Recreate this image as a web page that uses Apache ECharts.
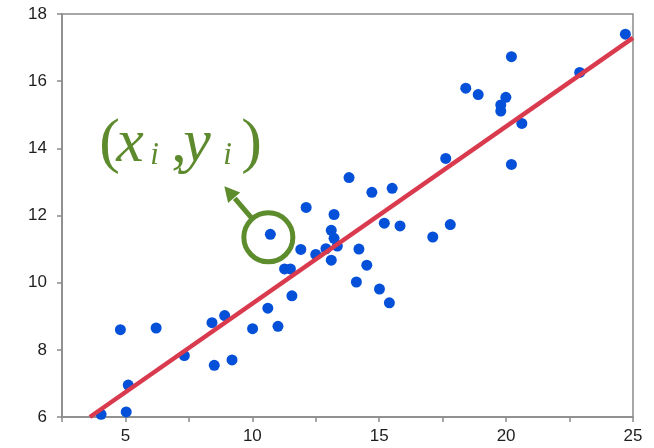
<!DOCTYPE html>
<html>
<head>
<meta charset="utf-8">
<script src="https://cdn.jsdelivr.net/npm/echarts@6/dist/echarts.min.js"></script>
<style>html,body{margin:0;padding:0;background:#fff}#c{width:654px;height:448px}</style>
</head>
<body>
<div id="c"></div>
<script>
// Observed data points (x, y)
const pointsX = [4.04, 5.03, 5.11, 4.80, 6.21, 7.32, 8.41, 8.50, 8.91, 9.20,
  10.01, 10.61, 11.01, 10.71, 11.27, 11.50, 11.56, 11.91, 12.12, 12.50,
  12.90, 13.11, 13.11, 13.22, 13.35, 13.22, 13.81, 14.10, 14.20, 14.51,
  14.71, 15.01, 15.40, 15.20, 15.51, 15.82, 17.11, 17.80, 17.62, 18.41,
  18.90, 19.79, 19.79, 19.99, 20.21, 20.62, 20.21, 22.90, 24.70];
const pointsY = [6.08, 6.15, 6.95, 8.60, 8.65, 7.83, 8.81, 7.54, 9.02, 7.70,
  8.63, 9.24, 8.70, 11.44, 10.41, 10.41, 9.61, 10.99, 12.24, 10.84,
  11.01, 10.67, 11.56, 11.32, 11.09, 12.03, 13.13, 10.02, 11.00, 10.52,
  12.69, 9.81, 9.40, 11.77, 12.81, 11.69, 11.36, 11.73, 13.70, 15.79,
  15.60, 15.11, 15.29, 15.52, 16.73, 14.74, 13.52, 16.26, 17.40];
// Fitted regression line endpoints
const fitX = [3.6, 25];
const fitY = [6.0, 17.29];
// Highlighted point index
const highlightIndex = 13;
// Axis ticks
const xTicks = [5, 10, 15, 20, 25];
const yTicks = [6, 8, 10, 12, 14, 16, 18];

const chart = echarts.init(document.getElementById('c'), null, {renderer: 'canvas'});
const scatterData = pointsX.map((x, i) => [x, pointsY[i]]);
const lineData = fitX.map((x, i) => [x, fitY[i]]);
const axisColor = '#8a8a8a';
const labelFont = {color: '#1e1e1e', fontSize: 17, fontFamily: 'Liberation Sans, Arial, sans-serif'};

chart.setOption({
  animation: false,
  grid: {left: 62, right: 21, top: 14, bottom: 31, show: true, borderColor: axisColor, borderWidth: 1.5, backgroundColor: 'transparent'},
  xAxis: {
    type: 'value', min: 2.5, max: 25, interval: 2.5,
    axisLine: {show: true, lineStyle: {color: axisColor, width: 1.5}},
    axisTick: {show: true, inside: false, length: 5, lineStyle: {color: axisColor, width: 1.5}},
    splitLine: {show: false},
    axisLabel: Object.assign({margin: 11, formatter: v => xTicks.includes(v) ? String(v) : ''}, labelFont)
  },
  yAxis: {
    type: 'value', min: yTicks[0], max: yTicks[yTicks.length - 1], interval: 2,
    axisLine: {show: true, lineStyle: {color: axisColor, width: 1.5}},
    axisTick: {show: true, inside: false, length: 5, lineStyle: {color: axisColor, width: 1.5}},
    splitLine: {show: false},
    axisLabel: Object.assign({margin: 15}, labelFont)
  },
  series: [
    {type: 'scatter', data: scatterData, symbolSize: 11, itemStyle: {color: '#0450d8', opacity: 1}, clip: true, z: 2},
    {type: 'line', data: lineData, symbol: 'none', lineStyle: {color: '#d93a4e', width: 4.5}, clip: true, z: 3}
  ]
});

// Annotation anchored on the highlighted point
const p = chart.convertToPixel({gridIndex: 0}, scatterData[highlightIndex]);
const cx = p[0] - 2, cy = p[1] + 3;
const green = '#5c8c2c';
const r = 24.5;
const ux = -0.653, uy = -0.757; // arrow direction
const tipX = cx - 44, tipY = cy - 51;
const headLen = 15, headHalf = 8;
const baseX = tipX - ux * headLen, baseY = tipY - uy * headLen;
const px_ = -uy, py_ = ux;
const textGreen = '#5e8a2e';
const tf = 'Liberation Serif, Times New Roman, serif';
const bx = p[0], by = p[1];
// dy = desired baseline offset; converted to top of box
function glyph(t, dx, dy, size, italic) {
  return {type: 'text', x: bx + dx, y: by + dy - 0.75 * size, z: 10,
    style: {text: t, fill: textGreen, font: (italic ? 'italic ' : '') + size + 'px ' + tf, verticalAlign: 'top', align: 'left'}};
}
chart.setOption({
  graphic: [
    {type: 'circle', shape: {cx: cx, cy: cy, r: r}, style: {fill: 'none', stroke: green, lineWidth: 5}, z: 10},
    {type: 'line', shape: {x1: cx + ux * r, y1: cy + uy * r, x2: baseX - ux * 1, y2: baseY - uy * 1}, style: {stroke: green, lineWidth: 5}, z: 10},
    {type: 'polygon', shape: {points: [[tipX, tipY], [baseX + px_ * headHalf, baseY + py_ * headHalf], [baseX - px_ * headHalf, baseY - py_ * headHalf]]}, style: {fill: green}, z: 10},
    glyph('(', -171, -74, 62, false),
    glyph('x', -154, -74, 62, true),
    glyph('i', -120, -71, 31, true),
    glyph(',', -99, -74, 62, false),
    glyph('y', -87, -74, 62, true),
    glyph('i', -47, -71, 31, true),
    glyph(')', -29, -74, 62, false)
  ]
});
</script>
</body>
</html>
